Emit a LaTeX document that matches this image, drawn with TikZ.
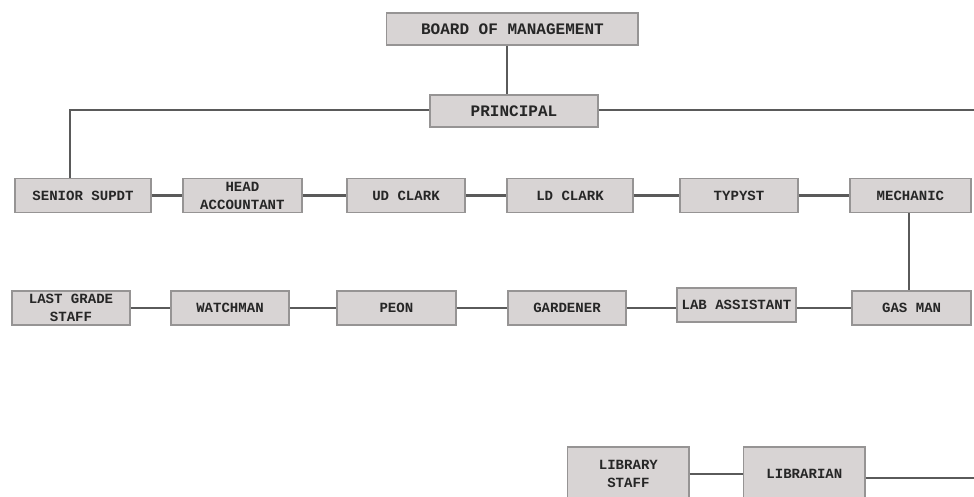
\documentclass[tikz,border=0pt]{standalone}
\usepackage{fontspec}
\usepackage{tikz}
\usepackage{xcolor}
\usetikzlibrary{positioning, calc}
\newfontfamily\boxfont{Liberation Mono}
\definecolor{boxfill}{RGB}{216,212,212}
\definecolor{boxedge}{RGB}{150,148,148}
\definecolor{linkgray}{RGB}{90,90,90}

\begin{document}
\begin{tikzpicture}[
  post/.style={draw=boxedge, line width=0.9pt, fill=boxfill, inner sep=1pt,
    font=\boxfont\bfseries\fontsize{10}{12.6}\selectfont, text=black!85,
    align=center, minimum height=0.85cm},
  head/.style={post, font=\boxfont\bfseries\fontsize{11.4}{13}\selectfont, minimum height=0.8cm},
  link/.style={draw=linkgray, line width=1.6pt}
]
\useasboundingbox (0,0) rectangle (24.35,12.4);

% Top of the chart
\node[head, minimum width=6.28cm] (board) at (12.81, 11.675) {BOARD OF MANAGEMENT};
\node[head, minimum width=4.2cm] (prin) at (12.85, 9.625) {PRINCIPAL};

% Office row
\node[post, minimum width=3.4cm]   (sen)  at (2.075, 7.51)  {SENIOR SUPDT};
\node[post, minimum width=2.975cm] (acc)  at (6.06, 7.51)   {HEAD\\ACCOUNTANT};
\node[post, minimum width=2.95cm]  (ud)   at (10.15, 7.51)  {UD CLARK};
\node[post, minimum width=3.15cm]  (ld)   at (14.25, 7.51)  {LD CLARK};
\node[post, minimum width=2.95cm]  (typ)  at (18.475, 7.51) {TYPYST};
\node[post, minimum width=3.025cm] (mech) at (22.76, 7.51)  {MECHANIC};

% Support row
\node[post, minimum width=2.95cm] (last)  at (1.775, 4.7)  {LAST GRADE\\STAFF};
\node[post, minimum width=2.95cm] (watch) at (5.75, 4.7)   {WATCHMAN};
\node[post, minimum width=2.975cm] (peon) at (9.91, 4.7)   {PEON};
\node[post, minimum width=2.95cm] (gard)  at (14.175, 4.7) {GARDENER};
\node[post, minimum width=2.975cm] (lab)  at (18.41, 4.775) {LAB ASSISTANT};
\node[post, minimum width=2.975cm] (gas)  at (22.79, 4.7)  {GAS MAN};

% Library
\node[post, minimum width=3.03cm, minimum height=1.35cm] (lstaff) at (15.71, 0.55) {LIBRARY\\STAFF};
\node[post, minimum width=3.03cm, minimum height=1.35cm] (lib)    at (20.11, 0.55) {LIBRARIAN};

\coordinate (bend)  at (1.75, 9.65);
\coordinate (pout)  at (24.35, 9.65);
\coordinate (libout) at (24.35, 0.45);

% Connectors
\draw[link] (board.south -| 12.68,0) -- (prin.north -| 12.68,0);
\draw[link] (prin.west |- bend) -- (bend) -- (bend |- sen.north);
\draw[link] (prin.east |- pout) -- (pout);
\draw[link] (sen) -- (acc);
\draw[link] (acc) -- (ud);
\draw[link] (ud) -- (ld);
\draw[link] (ld) -- (typ);
\draw[link] (typ) -- (mech);
\draw[link] (mech.south -| 22.72,0) -- (gas.north -| 22.72,0);
\draw[link] (last) -- (watch);
\draw[link] (watch) -- (peon);
\draw[link] (peon) -- (gard);
\draw[link] (gard) -- (lab.west |- gard);
\draw[link] (lab.east |- gas) -- (gas);
\draw[link] (lstaff) -- (lib);
\draw[link] (lib.east |- libout) -- (libout);

\end{tikzpicture}
\end{document}
